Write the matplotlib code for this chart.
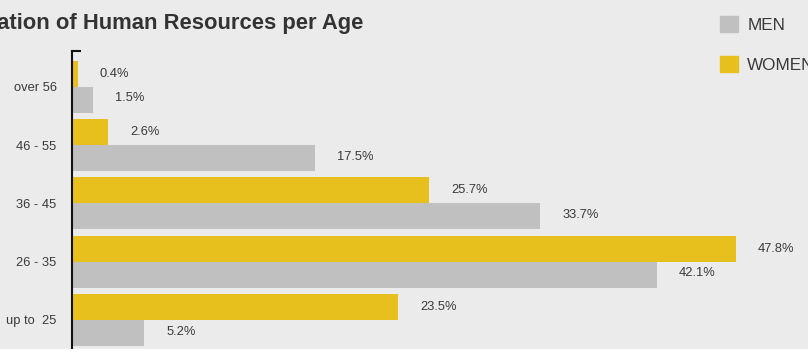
import numpy as np
import matplotlib.pyplot as plt
from matplotlib.patches import Patch

categories = ['up to  25', '26 - 35', '36 - 45', '46 - 55', 'over 56']
women = [23.5, 47.8, 25.7, 2.6, 0.4]
men = [5.2, 42.1, 33.7, 17.5, 1.5]

BG = '#ebebeb'
YELLOW = '#e8c01e'
GREY = '#c0c0c0'
TXT = '#3a3a3a'
FONT = ['Liberation Sans', 'DejaVu Sans']

W, H = 808, 349
fig = plt.figure(figsize=(W / 100, H / 100), dpi=100, facecolor=BG)
# axes placed in pixel terms: left spine at x=72, top at y=51, runs past bottom edge
ax = fig.add_axes([72 / W, 0, 1 - 72 / W, 1 - 51 / H])
ax.set_facecolor(BG)

y = np.arange(len(categories))
h = 0.446
ax.barh(y + h / 2, women, height=h, color=YELLOW, label='WOMEN')
ax.barh(y - h / 2, men, height=h, color=GREY, label='MEN')

for yy, v in zip(y + h / 2, women):
    ax.annotate(f'{v}%', (v, yy), xytext=(16, 0), textcoords='offset points',
                va='center', ha='left', fontsize=9.3, color=TXT, family=FONT)
for yy, v in zip(y - h / 2, men):
    ax.annotate(f'{v}%', (v, yy), xytext=(16, 1), textcoords='offset points',
                va='center', ha='left', fontsize=9.3, color=TXT, family=FONT)

ax.set_xlim(0, 736 / 13.89)
ax.set_ylim(-29 / 58.3, 4.614)
ax.set_yticks(y)
ax.set_yticklabels(categories, family=FONT, fontsize=9.3, color=TXT)
ax.tick_params(axis='y', length=0, pad=11)
ax.set_xticks([])
for s in ['top', 'right', 'bottom']:
    ax.spines[s].set_visible(False)
ax.spines['left'].set_linewidth(1.5)
ax.spines['left'].set_color('#111111')
ax.plot([0, 8 / 736], [1, 1], color='#111111', lw=1.5,
        transform=ax.transAxes, clip_on=False)

fig.text(363 / W, 1 - 29 / H, 'Segmentation of Human Resources per Age',
         ha='right', va='baseline', fontsize=15.8, fontweight='bold',
         color='#333333', family=FONT)

handles = [Patch(color=GREY, label='MEN'), Patch(color=YELLOW, label='WOMEN')]
fig.legend(handles=handles, loc='upper left', bbox_to_anchor=(713 / W, 1 - 9 / H),
           frameon=False, prop={'family': FONT, 'size': 12.3},
           handlelength=1.05, handleheight=1.05, handletextpad=0.55,
           labelspacing=1.38, labelcolor=TXT, borderaxespad=0)

fig.savefig('out.png', dpi=100, facecolor=BG)
